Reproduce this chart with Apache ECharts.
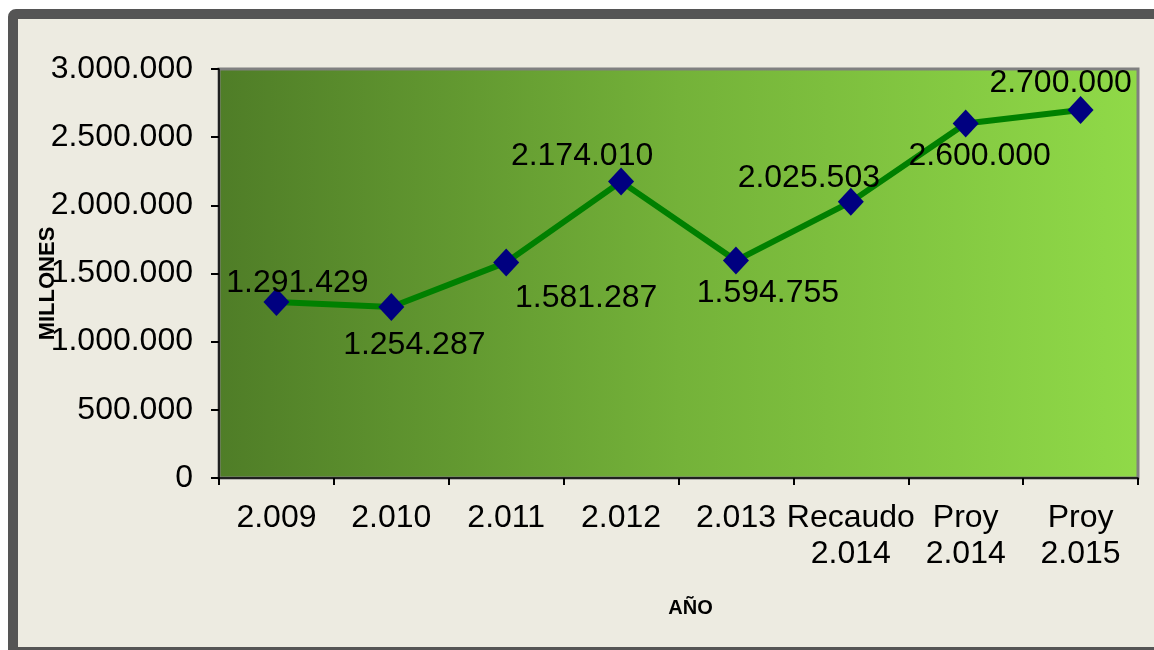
<!DOCTYPE html>
<html>
<head>
<meta charset="utf-8">
<script src="https://cdn.jsdelivr.net/npm/echarts@6/dist/echarts.min.js"></script>
<style>
  html, body { margin: 0; padding: 0; background: #ffffff; }
  #chart { width: 1154px; height: 650px; }
</style>
</head>
<body>
<div id="chart"></div>
<script>
// datos del grafico
var categorias = ['2.009', '2.010', '2.011', '2.012', '2.013', 'Recaudo\n2.014', 'Proy\n2.014', 'Proy\n2.015'];
var valores = [1291429, 1254287, 1581287, 2174010, 1594755, 2025503, 2600000, 2700000];
var ejeY = [0, 500000, 1000000, 1500000, 2000000, 2500000, 3000000];

// desplazamiento de cada etiqueta respecto al marcador
var desplaz = [[21, -19], [23, 38], [80, 36], [-39, -25], [32, 33], [-42, -24], [14, 33], [-20, -27]];

// formato con punto de miles
function miles(v) {
    return String(v).replace(/\B(?=(\d{3})+(?!\d))/g, '.');
}

var myChart = echarts.init(document.getElementById('chart'));
var fuente = 'Liberation Sans, Arial, sans-serif';

var puntos = valores.map(function (v, i) {
    return {
        value: v,
        label: { offset: desplaz[i] }
    };
});

var option = {
    animation: false,
    backgroundColor: '#ffffff',
    graphic: [{
        type: 'rect',
        z: -10,
        silent: true,
        shape: { x: 13, y: 14, width: 1160, height: 638, r: 3 },
        style: { fill: '#EDEBE1', stroke: '#555555', lineWidth: 10 }
    }],
    grid: {
        left: 219,
        top: 69,
        right: 16,
        bottom: 172,
        show: true,
        borderColor: '#808080',
        borderWidth: 3,
        backgroundColor: {
            type: 'linear', x: 0, y: 0, x2: 1, y2: 0,
            colorStops: [
                { offset: 0, color: '#4F7D27' },
                { offset: 0.5, color: '#74B239' },
                { offset: 1, color: '#90DA48' }
            ]
        }
    },
    xAxis: {
        type: 'category',
        data: categorias,
        name: 'AÑO',
        nameLocation: 'middle',
        nameGap: 120,
        nameMoveOverlap: false,
        nameTextStyle: { fontFamily: fuente, fontSize: 20, fontWeight: 'bold', color: '#000', padding: [0, 0, 0, 24] },
        axisLine: { lineStyle: { color: '#000', width: 1.5 } },
        axisTick: { show: true, interval: 0, length: 7, lineStyle: { color: '#000', width: 2 } },
        axisLabel: {
            interval: 0, margin: 22, color: '#000',
            fontFamily: fuente, fontSize: 32, lineHeight: 36
        },
        splitLine: { show: false }
    },
    yAxis: {
        type: 'value',
        min: ejeY[0],
        max: ejeY[ejeY.length - 1],
        interval: ejeY[1] - ejeY[0],
        name: 'MILLONES',
        nameLocation: 'middle',
        nameGap: 160,
        nameMoveOverlap: false,
        nameTextStyle: { fontFamily: fuente, fontSize: 22, fontWeight: 'bold', color: '#000', padding: [0, 20, 0, 0] },
        axisLine: { show: true, lineStyle: { color: '#000', width: 1.5 } },
        axisTick: { show: true, length: 8, lineStyle: { color: '#000', width: 2 } },
        axisLabel: {
            margin: 26, color: '#000', fontFamily: fuente, fontSize: 32,
            formatter: function (v) { return miles(v); }
        },
        splitLine: { show: false }
    },
    series: [{
        type: 'line',
        data: puntos,
        symbol: 'diamond',
        symbolSize: [26, 28],
        itemStyle: { color: '#000080' },
        lineStyle: { color: '#008000', width: 6 },
        label: {
            show: true,
            position: 'inside',
            color: '#000',
            fontFamily: fuente,
            fontSize: 32,
            formatter: function (p) { return miles(p.value); }
        }
    }]
};

myChart.setOption(option);
</script>
</body>
</html>
